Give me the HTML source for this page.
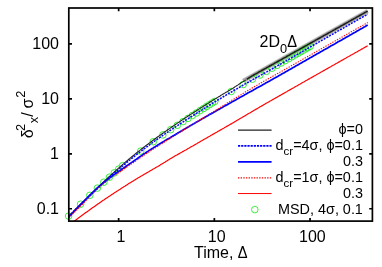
<!DOCTYPE html>
<html><head><meta charset="utf-8"><title>plot</title>
<style>html,body{margin:0;padding:0;background:#fff}svg{display:block;will-change:transform}</style></head>
<body>
<svg width="382" height="267" viewBox="0 0 382 267">
<rect width="382" height="267" fill="#fff"/>
<defs><clipPath id="c"><rect x="68.8" y="8.0" width="303.59999999999997" height="213.1"/></clipPath></defs>
<g fill="none" clip-path="url(#c)" stroke-linecap="butt" stroke-linejoin="round">
<path d="M243.2,80.9 L367.6,11.1" stroke="#e0e0e0" stroke-width="4.8"/>
<path d="M243.2,80.9 L367.6,11.1" stroke="#a4a4a4" stroke-width="3.5"/>
</g>
<g fill="none" stroke="#28ec28" stroke-width="0.9"><circle cx="68.6" cy="216.1" r="3.3"/><circle cx="80.6" cy="204.2" r="3.3"/><circle cx="89.8" cy="195.3" r="3.3"/><circle cx="97.4" cy="188.1" r="3.3"/><circle cx="103.8" cy="182.2" r="3.3"/><circle cx="109.4" cy="177.2" r="3.3"/><circle cx="114.3" cy="172.8" r="3.3"/><circle cx="118.7" cy="169.1" r="3.3"/><circle cx="122.6" cy="165.7" r="3.3"/><circle cx="140.7" cy="151.1" r="3.3"/><circle cx="153.3" cy="141.7" r="3.3"/><circle cx="162.9" cy="134.9" r="3.3"/><circle cx="170.7" cy="129.6" r="3.3"/><circle cx="177.3" cy="125.3" r="3.3"/><circle cx="183.0" cy="121.6" r="3.3"/><circle cx="188.0" cy="118.4" r="3.3"/><circle cx="192.4" cy="115.5" r="3.3"/><circle cx="196.4" cy="113.0" r="3.3"/><circle cx="200.1" cy="110.6" r="3.3"/><circle cx="203.5" cy="108.5" r="3.3"/><circle cx="206.6" cy="106.5" r="3.3"/><circle cx="209.5" cy="104.7" r="3.3"/><circle cx="212.2" cy="103.0" r="3.3"/><circle cx="214.8" cy="101.4" r="3.3"/><circle cx="231.2" cy="91.5" r="3.3"/><circle cx="243.2" cy="84.5" r="3.3"/><circle cx="252.4" cy="79.2" r="3.3"/><circle cx="260.0" cy="75.0" r="3.3"/><circle cx="266.4" cy="71.4" r="3.3"/><circle cx="272.0" cy="68.2" r="3.3"/><circle cx="276.9" cy="65.4" r="3.3"/><circle cx="281.2" cy="63.0" r="3.3"/><circle cx="285.2" cy="60.7" r="3.3"/><circle cx="288.8" cy="58.6" r="3.3"/><circle cx="292.1" cy="56.7" r="3.3"/><circle cx="295.2" cy="54.9" r="3.3"/><circle cx="298.1" cy="53.3" r="3.3"/><circle cx="300.8" cy="51.7" r="3.3"/><circle cx="303.3" cy="50.3" r="3.3"/><circle cx="305.7" cy="48.9" r="3.3"/><circle cx="307.9" cy="47.6" r="3.3"/><circle cx="310.1" cy="46.4" r="3.3"/></g>
<g fill="none" clip-path="url(#c)" stroke-linecap="butt" stroke-linejoin="round">
<path d="M68.8,216.1 L69.8,215.1 L70.8,214.1 L71.8,213.1 L72.8,212.1 L73.8,211.0 L74.8,210.0 L75.8,209.0 L76.8,208.0 L77.8,207.0 L78.8,206.0 L79.8,205.0 L80.8,204.0 L81.8,203.0 L82.8,202.0 L83.8,201.0 L84.8,200.0 L85.8,199.0 L86.8,198.1 L87.8,197.1 L88.8,196.1 L89.8,195.1 L90.8,194.1 L91.8,193.2 L92.8,192.2 L93.8,191.2 L94.8,190.3 L95.8,189.3 L96.8,188.3 L97.8,187.4 L98.8,186.4 L99.8,185.5 L100.8,184.5 L101.8,183.6 L102.8,182.6 L103.8,181.7 L104.8,180.7 L105.8,179.8 L106.8,178.9 L107.8,177.9 L108.8,177.0 L109.8,176.1 L110.8,175.2 L111.8,174.2 L112.8,173.3 L113.8,172.4 L114.8,171.5 L115.8,170.6 L116.8,169.7 L117.8,168.8 L118.8,167.9 L119.8,167.1 L120.8,166.2 L121.8,165.3 L122.8,164.4 L123.8,163.6 L124.8,162.7 L125.8,161.8 L126.8,161.0 L127.8,160.1 L128.8,159.3 L129.8,158.5 L130.8,157.6 L131.8,156.8 L132.8,156.0 L133.8,155.2 L134.8,154.4 L135.8,153.5 L136.8,152.7 L137.8,151.9 L138.8,151.1 L139.8,150.4 L140.8,149.6 L141.8,148.8 L142.8,148.0 L143.8,147.2 L144.8,146.5 L145.8,145.7 L146.8,144.9 L147.8,144.2 L148.8,143.4 L149.8,142.7 L150.8,141.9 L151.8,141.2 L152.8,140.5 L153.8,139.7 L154.8,139.0 L155.8,138.3 L156.8,137.5 L157.8,136.8 L158.8,136.1 L159.8,135.4 L160.8,134.7 L161.8,134.0 L162.8,133.3 L163.8,132.6 L164.8,131.8 L165.8,131.1 L166.8,130.5 L167.8,129.8 L168.8,129.1 L169.8,128.4 L170.8,127.7 L171.8,127.0 L172.8,126.3 L173.8,125.6 L174.8,125.0 L175.8,124.3 L176.8,123.6 L177.8,122.9 L178.8,122.3 L179.8,121.6 L180.8,120.9 L181.7,120.3 L182.7,119.6 L183.7,119.0 L184.7,118.3 L185.7,117.6 L186.7,117.0 L187.7,116.3 L188.7,115.7 L189.7,115.0 L190.7,114.4 L191.7,113.8 L192.7,113.1 L193.7,112.5 L194.7,111.8 L195.7,111.2 L196.7,110.5 L197.7,109.9 L198.7,109.3 L199.7,108.6 L200.7,108.0 L201.7,107.4 L202.7,106.7 L203.7,106.1 L204.7,105.5 L205.7,104.8 L206.7,104.2 L207.7,103.6 L208.7,102.9 L209.7,102.3 L210.7,101.7 L211.7,101.1 L212.7,100.4 L213.7,99.8 L214.7,99.2 L215.7,98.6 L216.7,98.0 L217.7,97.4 L218.7,96.8 L219.7,96.2 L220.7,95.5 L221.7,94.9 L222.7,94.3 L223.7,93.7 L224.7,93.1 L225.7,92.5 L226.7,91.9 L227.7,91.4 L228.7,90.8 L229.7,90.2 L230.7,89.6 L231.7,89.0 L232.7,88.4 L233.7,87.7 L234.7,87.0 L235.7,86.4 L236.7,85.7 L237.7,85.1 L238.7,84.4 L239.7,83.8 L240.7,83.1 L241.7,82.5 L242.7,81.9 L243.7,81.2 L244.7,80.6 L245.7,79.9" stroke="#222" stroke-width="1.1"/>
<path d="M246.7,79.3 L247.7,78.7 L248.7,78.0 L249.7,77.4 L250.7,76.8 L251.7,76.1 L252.7,75.6 L253.7,75.0 L254.7,74.4 L255.7,73.9 L256.7,73.3 L257.7,72.8 L258.7,72.2 L259.7,71.6 L260.7,71.1 L261.7,70.5 L262.7,70.0 L263.7,69.4 L264.7,68.8 L265.7,68.3 L266.7,67.7 L267.7,67.1 L268.7,66.6 L269.7,66.0 L270.7,65.5 L271.7,64.9 L272.7,64.3 L273.7,63.8 L274.7,63.2 L275.7,62.7 L276.7,62.1 L277.7,61.5 L278.7,61.0 L279.7,60.4 L280.7,59.9 L281.7,59.3 L282.7,58.7 L283.7,58.2 L284.7,57.6 L285.7,57.1 L286.7,56.5 L287.7,55.9 L288.7,55.4 L289.7,54.8 L290.7,54.2 L291.7,53.7 L292.7,53.1 L293.7,52.6 L294.7,52.0 L295.7,51.4 L296.7,50.9 L297.7,50.3 L298.7,49.8 L299.7,49.2 L300.7,48.6 L301.7,48.1 L302.7,47.5 L303.7,47.0 L304.7,46.4 L305.7,45.8 L306.7,45.3 L307.7,44.7 L308.7,44.2 L309.7,43.6 L310.7,43.0 L311.7,42.5 L312.7,41.9 L313.7,41.3 L314.7,40.8 L315.7,40.2 L316.7,39.7 L317.7,39.1 L318.7,38.5 L319.7,38.0 L320.7,37.4 L321.7,36.9 L322.7,36.3 L323.7,35.7 L324.7,35.2 L325.7,34.6 L326.7,34.1 L327.7,33.5 L328.7,32.9 L329.7,32.4 L330.7,31.8 L331.7,31.3 L332.7,30.7 L333.7,30.1 L334.7,29.6 L335.7,29.0 L336.7,28.4 L337.7,27.9 L338.7,27.3 L339.7,26.8 L340.7,26.2 L341.7,25.6 L342.7,25.1 L343.7,24.5 L344.7,24.0 L345.7,23.4 L346.7,22.8 L347.7,22.3 L348.7,21.7 L349.7,21.2 L350.7,20.6 L351.7,20.0 L352.7,19.5 L353.7,18.9 L354.7,18.4 L355.7,17.8 L356.7,17.2 L357.7,16.7 L358.7,16.1 L359.7,15.5 L360.7,15.0 L361.7,14.4 L362.7,13.9 L363.7,13.3 L364.7,12.7 L365.7,12.2 L366.7,11.6 L367.7,11.1" stroke="#1c1c1c" stroke-width="1.5"/>
<path d="M68.8,216.3 L69.8,215.3 L70.8,214.3 L71.8,213.3 L72.8,212.3 L73.8,211.3 L74.8,210.3 L75.8,209.3 L76.8,208.3 L77.8,207.4 L78.8,206.4 L79.8,205.4 L80.8,204.4 L81.8,203.5 L82.8,202.5 L83.8,201.5 L84.8,200.5 L85.8,199.6 L86.8,198.6 L87.8,197.6 L88.8,196.7 L89.8,195.7 L90.8,194.7 L91.8,193.8 L92.8,192.8 L93.8,191.9 L94.8,190.9 L95.8,190.0 L96.8,189.0 L97.8,188.1 L98.8,187.2 L99.8,186.2 L100.8,185.3 L101.8,184.4 L102.8,183.4 L103.8,182.5 L104.8,181.6 L105.8,180.7 L106.8,179.7 L107.8,178.8 L108.8,177.9 L109.8,177.0 L110.8,176.1 L111.8,175.2 L112.8,174.4 L113.8,173.5 L114.8,172.6 L115.8,171.7 L116.8,170.9 L117.8,170.0 L118.8,169.1 L119.8,168.3 L120.8,167.4 L121.8,166.6 L122.8,165.8 L123.8,164.9 L124.8,164.1 L125.8,163.3 L126.8,162.4 L127.8,161.6 L128.8,160.8 L129.8,160.0 L130.8,159.2 L131.8,158.4 L132.8,157.6 L133.8,156.8 L134.8,156.0 L135.8,155.2 L136.8,154.4 L137.8,153.6 L138.8,152.9 L139.8,152.1 L140.8,151.3 L141.8,150.6 L142.8,149.8 L143.8,149.0 L144.8,148.3 L145.8,147.5 L146.8,146.8 L147.8,146.1 L148.8,145.3 L149.8,144.6 L150.8,143.9 L151.8,143.1 L152.8,142.4 L153.8,141.7 L154.8,141.0 L155.8,140.3 L156.8,139.6 L157.8,138.9 L158.8,138.2 L159.8,137.5 L160.8,136.8 L161.8,136.1 L162.8,135.4 L163.8,134.7 L164.8,134.0 L165.8,133.3 L166.8,132.7 L167.8,132.0 L168.8,131.3 L169.8,130.6 L170.8,130.0 L171.8,129.3 L172.8,128.7 L173.8,128.0 L174.8,127.3 L175.8,126.7 L176.8,126.0 L177.8,125.4 L178.8,124.7 L179.8,124.1 L180.8,123.4 L181.7,122.8 L182.7,122.1 L183.7,121.5 L184.7,120.8 L185.7,120.2 L186.7,119.6 L187.7,118.9 L188.7,118.3 L189.7,117.7 L190.7,117.0 L191.7,116.4 L192.7,115.8 L193.7,115.1 L194.7,114.5 L195.7,113.9 L196.7,113.2 L197.7,112.6 L198.7,112.0 L199.7,111.3 L200.7,110.7 L201.7,110.1 L202.7,109.4 L203.7,108.8 L204.7,108.2 L205.7,107.5 L206.7,106.9 L207.7,106.3 L208.7,105.7 L209.7,105.0 L210.7,104.4 L211.7,103.8 L212.7,103.2 L213.7,102.5 L214.7,101.9 L215.7,101.3 L216.7,100.7 L217.7,100.1 L218.7,99.5 L219.7,98.9 L220.7,98.3 L221.7,97.7 L222.7,97.1 L223.7,96.5 L224.7,95.9 L225.7,95.3 L226.7,94.7 L227.7,94.1 L228.7,93.5 L229.7,92.9 L230.7,92.4 L231.7,91.8 L232.7,91.2 L233.7,90.6 L234.7,90.0 L235.7,89.4 L236.7,88.9 L237.7,88.3 L238.7,87.7 L239.7,87.1 L240.7,86.5 L241.7,86.0 L242.7,85.4 L243.7,84.8 L244.7,84.2 L245.7,83.7 L246.7,83.1 L247.7,82.5 L248.7,82.0 L249.7,81.4 L250.7,80.8 L251.7,80.3 L252.7,79.7 L253.7,79.1 L254.7,78.6 L255.7,78.0 L256.7,77.4 L257.7,76.9 L258.7,76.3 L259.7,75.8 L260.7,75.2 L261.7,74.7 L262.7,74.1 L263.7,73.5 L264.7,73.0 L265.7,72.4 L266.7,71.9 L267.7,71.3 L268.7,70.7 L269.7,70.2 L270.7,69.6 L271.7,69.1 L272.7,68.5 L273.7,67.9 L274.7,67.4 L275.7,66.8 L276.7,66.2 L277.7,65.7 L278.7,65.1 L279.7,64.5 L280.7,64.0 L281.7,63.4 L282.7,62.8 L283.7,62.2 L284.7,61.7 L285.7,61.1 L286.7,60.5 L287.7,60.0 L288.7,59.4 L289.7,58.8 L290.7,58.2 L291.7,57.7 L292.7,57.1 L293.7,56.5 L294.7,55.9 L295.7,55.4 L296.7,54.8 L297.7,54.2 L298.7,53.6 L299.7,53.1 L300.7,52.5 L301.7,51.9 L302.7,51.3 L303.7,50.8 L304.7,50.2 L305.7,49.6 L306.7,49.0 L307.7,48.5 L308.7,47.9 L309.7,47.3 L310.7,46.7 L311.7,46.2 L312.7,45.6 L313.7,45.0 L314.7,44.4 L315.7,43.9 L316.7,43.3 L317.7,42.7 L318.7,42.1 L319.7,41.6 L320.7,41.0 L321.7,40.4 L322.7,39.8 L323.7,39.3 L324.7,38.7 L325.7,38.1 L326.7,37.5 L327.7,37.0 L328.7,36.4 L329.7,35.8 L330.7,35.2 L331.7,34.7 L332.7,34.1 L333.7,33.5 L334.7,33.0 L335.7,32.4 L336.7,31.8 L337.7,31.2 L338.7,30.7 L339.7,30.1 L340.7,29.5 L341.7,29.0 L342.7,28.4 L343.7,27.8 L344.7,27.2 L345.7,26.7 L346.7,26.1 L347.7,25.5 L348.7,25.0 L349.7,24.4 L350.7,23.8 L351.7,23.2 L352.7,22.7 L353.7,22.1 L354.7,21.5 L355.7,21.0 L356.7,20.4 L357.7,19.8 L358.7,19.3 L359.7,18.7 L360.7,18.1 L361.7,17.5 L362.7,17.0 L363.7,16.4 L364.7,15.8 L365.7,15.3 L366.7,14.7 L367.7,14.1" stroke="#0000ff" stroke-width="1.5" stroke-dasharray="2.0 1.15"/>
<path d="M68.8,216.9 L69.8,215.9 L70.8,214.8 L71.8,213.8 L72.8,212.8 L73.8,211.7 L74.8,210.7 L75.8,209.7 L76.8,208.7 L77.8,207.6 L78.8,206.6 L79.8,205.6 L80.8,204.6 L81.8,203.6 L82.8,202.6 L83.8,201.6 L84.8,200.5 L85.8,199.5 L86.8,198.5 L87.8,197.4 L88.8,196.4 L89.8,195.4 L90.8,194.4 L91.8,193.4 L92.8,192.4 L93.8,191.4 L94.8,190.4 L95.8,189.4 L96.8,188.5 L97.8,187.6 L98.8,186.7 L99.8,185.8 L100.8,185.0 L101.8,184.1 L102.8,183.3 L103.8,182.5 L104.8,181.7 L105.8,180.9 L106.8,180.2 L107.8,179.4 L108.8,178.6 L109.8,177.8 L110.8,177.0 L111.8,176.2 L112.8,175.5 L113.8,174.8 L114.8,174.1 L115.8,173.4 L116.8,172.7 L117.8,172.0 L118.8,171.3 L119.8,170.7 L120.8,170.0 L121.8,169.3 L122.8,168.6 L123.8,167.9 L124.8,167.2 L125.8,166.5 L126.8,165.8 L127.8,165.1 L128.8,164.4 L129.8,163.7 L130.8,163.1 L131.8,162.4 L132.8,161.7 L133.8,161.0 L134.8,160.3 L135.8,159.6 L136.8,158.9 L137.8,158.2 L138.8,157.5 L139.8,156.8 L140.8,156.1 L141.8,155.4 L142.8,154.7 L143.8,154.0 L144.8,153.4 L145.8,152.7 L146.8,152.0 L147.8,151.4 L148.8,150.7 L149.8,150.1 L150.8,149.4 L151.8,148.8 L152.8,148.2 L153.8,147.5 L154.8,146.9 L155.8,146.3 L156.8,145.7 L157.8,145.0 L158.8,144.4 L159.8,143.8 L160.8,143.2 L161.8,142.6 L162.8,142.0 L163.8,141.4 L164.8,140.8 L165.8,140.2 L166.8,139.6 L167.8,139.0 L168.8,138.4 L169.8,137.9 L170.8,137.3 L171.8,136.7 L172.8,136.1 L173.8,135.5 L174.8,134.9 L175.8,134.3 L176.8,133.7 L177.8,133.1 L178.8,132.5 L179.8,131.9 L180.8,131.3 L181.7,130.8 L182.7,130.2 L183.7,129.6 L184.7,129.0 L185.7,128.4 L186.7,127.8 L187.7,127.2 L188.7,126.7 L189.7,126.1 L190.7,125.5 L191.7,124.9 L192.7,124.3 L193.7,123.8 L194.7,123.2 L195.7,122.6 L196.7,122.0 L197.7,121.4 L198.7,120.9 L199.7,120.3 L200.7,119.7 L201.7,119.1 L202.7,118.6 L203.7,118.0 L204.7,117.4 L205.7,116.8 L206.7,116.3 L207.7,115.7 L208.7,115.1 L209.7,114.6 L210.7,114.0 L211.7,113.4 L212.7,112.9 L213.7,112.3 L214.7,111.7 L215.7,111.2 L216.7,110.6 L217.7,110.0 L218.7,109.5 L219.7,108.9 L220.7,108.3 L221.7,107.8 L222.7,107.2 L223.7,106.6 L224.7,106.1 L225.7,105.5 L226.7,104.9 L227.7,104.4 L228.7,103.8 L229.7,103.2 L230.7,102.7 L231.7,102.1 L232.7,101.6 L233.7,101.0 L234.7,100.4 L235.7,99.9 L236.7,99.3 L237.7,98.7 L238.7,98.2 L239.7,97.6 L240.7,97.1 L241.7,96.5 L242.7,95.9 L243.7,95.4 L244.7,94.8 L245.7,94.3 L246.7,93.7 L247.7,93.1 L248.7,92.6 L249.7,92.0 L250.7,91.5 L251.7,90.9 L252.7,90.4 L253.7,89.8 L254.7,89.3 L255.7,88.7 L256.7,88.1 L257.7,87.6 L258.7,87.0 L259.7,86.5 L260.7,85.9 L261.7,85.4 L262.7,84.8 L263.7,84.2 L264.7,83.7 L265.7,83.1 L266.7,82.6 L267.7,82.0 L268.7,81.4 L269.7,80.9 L270.7,80.3 L271.7,79.8 L272.7,79.2 L273.7,78.6 L274.7,78.1 L275.7,77.5 L276.7,76.9 L277.7,76.4 L278.7,75.8 L279.7,75.2 L280.7,74.7 L281.7,74.1 L282.7,73.5 L283.7,73.0 L284.7,72.4 L285.7,71.8 L286.7,71.3 L287.7,70.7 L288.7,70.1 L289.7,69.6 L290.7,69.0 L291.7,68.4 L292.7,67.8 L293.7,67.3 L294.7,66.7 L295.7,66.1 L296.7,65.6 L297.7,65.0 L298.7,64.4 L299.7,63.8 L300.7,63.3 L301.7,62.7 L302.7,62.1 L303.7,61.6 L304.7,61.0 L305.7,60.4 L306.7,59.8 L307.7,59.3 L308.7,58.7 L309.7,58.1 L310.7,57.6 L311.7,57.0 L312.7,56.4 L313.7,55.8 L314.7,55.3 L315.7,54.7 L316.7,54.1 L317.7,53.6 L318.7,53.0 L319.7,52.4 L320.7,51.8 L321.7,51.3 L322.7,50.7 L323.7,50.1 L324.7,49.6 L325.7,49.0 L326.7,48.4 L327.7,47.9 L328.7,47.3 L329.7,46.7 L330.7,46.1 L331.7,45.6 L332.7,45.0 L333.7,44.4 L334.7,43.9 L335.7,43.3 L336.7,42.7 L337.7,42.1 L338.7,41.6 L339.7,41.0 L340.7,40.4 L341.7,39.9 L342.7,39.3 L343.7,38.7 L344.7,38.2 L345.7,37.6 L346.7,37.0 L347.7,36.4 L348.7,35.9 L349.7,35.3 L350.7,34.7 L351.7,34.2 L352.7,33.6 L353.7,33.0 L354.7,32.5 L355.7,31.9 L356.7,31.3 L357.7,30.7 L358.7,30.2 L359.7,29.6 L360.7,29.0 L361.7,28.5 L362.7,27.9 L363.7,27.3 L364.7,26.8 L365.7,26.2 L366.7,25.6 L367.7,25.0" stroke="#0000ff" stroke-width="1.7"/>
<path d="M68.8,218.0 L69.8,217.0 L70.8,216.0 L71.8,214.9 L72.8,213.9 L73.8,212.9 L74.8,211.9 L75.8,210.9 L76.8,209.9 L77.8,208.9 L78.8,207.9 L79.8,206.9 L80.8,205.9 L81.8,204.9 L82.8,203.9 L83.8,202.8 L84.8,201.8 L85.8,200.8 L86.8,199.7 L87.8,198.7 L88.8,197.7 L89.8,196.6 L90.8,195.6 L91.8,194.6 L92.8,193.6 L93.8,192.6 L94.8,191.6 L95.8,190.6 L96.8,189.6 L97.8,188.7 L98.8,187.8 L99.8,186.9 L100.8,186.1 L101.8,185.2 L102.8,184.4 L103.8,183.6 L104.8,182.8 L105.8,182.0 L106.8,181.2 L107.8,180.5 L108.8,179.7 L109.8,178.9 L110.8,178.1 L111.8,177.3 L112.8,176.6 L113.8,175.9 L114.8,175.2 L115.8,174.6 L116.8,173.9 L117.8,173.2 L118.8,172.6 L119.8,171.9 L120.8,171.2 L121.8,170.6 L122.8,169.9 L123.8,169.2 L124.8,168.5 L125.8,167.8 L126.8,167.1 L127.8,166.4 L128.8,165.7 L129.8,165.0 L130.8,164.3 L131.8,163.6 L132.8,163.0 L133.8,162.3 L134.8,161.6 L135.8,160.9 L136.8,160.2 L137.8,159.5 L138.8,158.8 L139.8,158.1 L140.8,157.4 L141.8,156.7 L142.8,156.0 L143.8,155.3 L144.8,154.6 L145.8,153.9 L146.8,153.3 L147.8,152.6 L148.8,152.0 L149.8,151.3 L150.8,150.7 L151.8,150.0 L152.8,149.4 L153.8,148.7 L154.8,148.1 L155.8,147.5 L156.8,146.8 L157.8,146.2 L158.8,145.6 L159.8,144.9 L160.8,144.3 L161.8,143.7 L162.8,143.1 L163.8,142.4 L164.8,141.8 L165.8,141.2 L166.8,140.5 L167.8,139.9 L168.8,139.3 L169.8,138.6 L170.8,138.0 L171.8,137.4 L172.8,136.7 L173.8,136.1 L174.8,135.5 L175.8,134.9 L176.8,134.2 L177.8,133.6 L178.8,133.0 L179.8,132.4 L180.8,131.8 L181.7,131.2 L182.7,130.5 L183.7,129.9 L184.7,129.3 L185.7,128.7 L186.7,128.1 L187.7,127.5 L188.7,126.9 L189.7,126.2 L190.7,125.6 L191.7,125.0 L192.7,124.4 L193.7,123.8 L194.7,123.2 L195.7,122.6 L196.7,122.0 L197.7,121.3 L198.7,120.7 L199.7,120.1 L200.7,119.5 L201.7,118.9 L202.7,118.3 L203.7,117.7 L204.7,117.1 L205.7,116.4 L206.7,115.8 L207.7,115.2 L208.7,114.6 L209.7,114.0 L210.7,113.4 L211.7,112.8 L212.7,112.2 L213.7,111.5 L214.7,110.9 L215.7,110.3 L216.7,109.7 L217.7,109.1 L218.7,108.5 L219.7,107.8 L220.7,107.2 L221.7,106.6 L222.7,106.0 L223.7,105.3 L224.7,104.7 L225.7,104.1 L226.7,103.4 L227.7,102.8 L228.7,102.2 L229.7,101.6 L230.7,100.9 L231.7,100.3 L232.7,99.7 L233.7,99.1 L234.7,98.5 L235.7,97.9 L236.7,97.3 L237.7,96.7 L238.7,96.1 L239.7,95.5 L240.7,94.9 L241.7,94.3 L242.7,93.6 L243.7,93.0 L244.7,92.4 L245.7,91.8 L246.7,91.2 L247.7,90.6 L248.7,90.1 L249.7,89.5 L250.7,88.9 L251.7,88.3 L252.7,87.7 L253.7,87.1 L254.7,86.5 L255.7,85.9 L256.7,85.4 L257.7,84.8 L258.7,84.2 L259.7,83.6 L260.7,83.0 L261.7,82.5 L262.7,81.9 L263.7,81.3 L264.7,80.8 L265.7,80.2 L266.7,79.7 L267.7,79.1 L268.7,78.5 L269.7,78.0 L270.7,77.4 L271.7,76.9 L272.7,76.3 L273.7,75.7 L274.7,75.2 L275.7,74.6 L276.7,74.1 L277.7,73.5 L278.7,72.9 L279.7,72.4 L280.7,71.8 L281.7,71.2 L282.7,70.7 L283.7,70.1 L284.7,69.5 L285.7,69.0 L286.7,68.4 L287.7,67.8 L288.7,67.3 L289.7,66.7 L290.7,66.1 L291.7,65.6 L292.7,65.0 L293.7,64.4 L294.7,63.9 L295.7,63.3 L296.7,62.7 L297.7,62.2 L298.7,61.6 L299.7,61.0 L300.7,60.5 L301.7,59.9 L302.7,59.3 L303.7,58.8 L304.7,58.2 L305.7,57.6 L306.7,57.1 L307.7,56.5 L308.7,55.9 L309.7,55.4 L310.7,54.8 L311.7,54.2 L312.7,53.7 L313.7,53.1 L314.7,52.5 L315.7,52.0 L316.7,51.4 L317.7,50.8 L318.7,50.3 L319.7,49.7 L320.7,49.1 L321.7,48.6 L322.7,48.0 L323.7,47.4 L324.7,46.9 L325.7,46.3 L326.7,45.7 L327.7,45.2 L328.7,44.6 L329.7,44.0 L330.7,43.5 L331.7,42.9 L332.7,42.3 L333.7,41.8 L334.7,41.2 L335.7,40.6 L336.7,40.1 L337.7,39.5 L338.7,38.9 L339.7,38.4 L340.7,37.8 L341.7,37.2 L342.7,36.7 L343.7,36.1 L344.7,35.5 L345.7,35.0 L346.7,34.4 L347.7,33.8 L348.7,33.3 L349.7,32.7 L350.7,32.1 L351.7,31.6 L352.7,31.0 L353.7,30.5 L354.7,29.9 L355.7,29.3 L356.7,28.8 L357.7,28.2 L358.7,27.6 L359.7,27.1 L360.7,26.5 L361.7,25.9 L362.7,25.4 L363.7,24.8 L364.7,24.2 L365.7,23.7 L366.7,23.1 L367.7,22.5" stroke="#ff0000" stroke-width="1.1" stroke-dasharray="1.35 1.3"/>
<path d="M68.8,225.2 L69.8,224.5 L70.8,223.7 L71.8,223.0 L72.8,222.2 L73.8,221.5 L74.8,220.7 L75.8,220.0 L76.8,219.2 L77.8,218.5 L78.8,217.7 L79.8,217.0 L80.8,216.3 L81.8,215.5 L82.8,214.8 L83.8,214.1 L84.8,213.3 L85.8,212.6 L86.8,211.9 L87.8,211.2 L88.8,210.5 L89.8,209.7 L90.8,209.0 L91.8,208.3 L92.8,207.6 L93.8,206.9 L94.8,206.2 L95.8,205.5 L96.8,204.8 L97.8,204.1 L98.8,203.4 L99.8,202.7 L100.8,202.0 L101.8,201.3 L102.8,200.6 L103.8,200.0 L104.8,199.3 L105.8,198.6 L106.8,197.9 L107.8,197.3 L108.8,196.6 L109.8,195.9 L110.8,195.3 L111.8,194.6 L112.8,193.9 L113.8,193.3 L114.8,192.6 L115.8,192.0 L116.8,191.3 L117.8,190.7 L118.8,190.0 L119.8,189.4 L120.8,188.7 L121.8,188.1 L122.8,187.4 L123.8,186.8 L124.8,186.2 L125.8,185.5 L126.8,184.9 L127.8,184.3 L128.8,183.6 L129.8,183.0 L130.8,182.4 L131.8,181.8 L132.8,181.2 L133.8,180.6 L134.8,179.9 L135.8,179.3 L136.8,178.7 L137.8,178.1 L138.8,177.5 L139.8,176.9 L140.8,176.3 L141.8,175.8 L142.8,175.2 L143.8,174.6 L144.8,174.0 L145.8,173.4 L146.8,172.8 L147.8,172.2 L148.8,171.7 L149.8,171.1 L150.8,170.5 L151.8,169.9 L152.8,169.3 L153.8,168.8 L154.8,168.2 L155.8,167.6 L156.8,167.0 L157.8,166.5 L158.8,165.9 L159.8,165.3 L160.8,164.6 L161.8,164.0 L162.8,163.4 L163.8,162.8 L164.8,162.2 L165.8,161.5 L166.8,160.9 L167.8,160.3 L168.8,159.7 L169.8,159.1 L170.8,158.5 L171.8,157.9 L172.8,157.3 L173.8,156.7 L174.8,156.1 L175.8,155.5 L176.8,155.0 L177.8,154.4 L178.8,153.9 L179.8,153.3 L180.8,152.7 L181.7,152.2 L182.7,151.6 L183.7,151.1 L184.7,150.5 L185.7,150.0 L186.7,149.4 L187.7,148.8 L188.7,148.3 L189.7,147.7 L190.7,147.1 L191.7,146.5 L192.7,146.0 L193.7,145.4 L194.7,144.8 L195.7,144.2 L196.7,143.7 L197.7,143.1 L198.7,142.5 L199.7,141.9 L200.7,141.3 L201.7,140.8 L202.7,140.2 L203.7,139.6 L204.7,139.0 L205.7,138.5 L206.7,137.9 L207.7,137.3 L208.7,136.7 L209.7,136.2 L210.7,135.6 L211.7,135.0 L212.7,134.4 L213.7,133.9 L214.7,133.3 L215.7,132.7 L216.7,132.2 L217.7,131.6 L218.7,131.0 L219.7,130.4 L220.7,129.9 L221.7,129.3 L222.7,128.7 L223.7,128.2 L224.7,127.6 L225.7,127.0 L226.7,126.4 L227.7,125.9 L228.7,125.3 L229.7,124.7 L230.7,124.1 L231.7,123.6 L232.7,123.0 L233.7,122.4 L234.7,121.8 L235.7,121.2 L236.7,120.6 L237.7,120.0 L238.7,119.4 L239.7,118.8 L240.7,118.2 L241.7,117.7 L242.7,117.1 L243.7,116.5 L244.7,115.9 L245.7,115.3 L246.7,114.7 L247.7,114.1 L248.7,113.5 L249.7,113.0 L250.7,112.4 L251.7,111.8 L252.7,111.2 L253.7,110.6 L254.7,110.0 L255.7,109.4 L256.7,108.9 L257.7,108.3 L258.7,107.7 L259.7,107.1 L260.7,106.5 L261.7,105.9 L262.7,105.4 L263.7,104.8 L264.7,104.2 L265.7,103.6 L266.7,103.0 L267.7,102.5 L268.7,101.9 L269.7,101.3 L270.7,100.8 L271.7,100.2 L272.7,99.6 L273.7,99.1 L274.7,98.5 L275.7,97.9 L276.7,97.4 L277.7,96.8 L278.7,96.2 L279.7,95.6 L280.7,95.1 L281.7,94.5 L282.7,93.9 L283.7,93.4 L284.7,92.8 L285.7,92.2 L286.7,91.7 L287.7,91.1 L288.7,90.5 L289.7,89.9 L290.7,89.4 L291.7,88.8 L292.7,88.2 L293.7,87.7 L294.7,87.1 L295.7,86.5 L296.7,86.0 L297.7,85.4 L298.7,84.8 L299.7,84.3 L300.7,83.7 L301.7,83.1 L302.7,82.5 L303.7,82.0 L304.7,81.4 L305.7,80.8 L306.7,80.3 L307.7,79.7 L308.7,79.1 L309.7,78.6 L310.7,78.0 L311.7,77.4 L312.7,76.9 L313.7,76.3 L314.7,75.7 L315.7,75.2 L316.7,74.6 L317.7,74.0 L318.7,73.5 L319.7,72.9 L320.7,72.3 L321.7,71.8 L322.7,71.2 L323.7,70.6 L324.7,70.1 L325.7,69.5 L326.7,68.9 L327.7,68.4 L328.7,67.8 L329.7,67.2 L330.7,66.7 L331.7,66.1 L332.7,65.5 L333.7,65.0 L334.7,64.4 L335.7,63.8 L336.7,63.3 L337.7,62.7 L338.7,62.1 L339.7,61.6 L340.7,61.0 L341.7,60.4 L342.7,59.9 L343.7,59.3 L344.7,58.7 L345.7,58.2 L346.7,57.6 L347.7,57.0 L348.7,56.5 L349.7,55.9 L350.7,55.3 L351.7,54.8 L352.7,54.2 L353.7,53.7 L354.7,53.1 L355.7,52.5 L356.7,52.0 L357.7,51.4 L358.7,50.8 L359.7,50.3 L360.7,49.7 L361.7,49.1 L362.7,48.6 L363.7,48.0 L364.7,47.4 L365.7,46.9 L366.7,46.3 L367.7,45.7" stroke="#ff0000" stroke-width="1.2"/>
</g>
<g stroke="#000" stroke-width="1.7" fill="none">
<rect x="68.8" y="8.0" width="303.59999999999997" height="213.1"/>
<path d="M68.8,208.75h3.2 M372.4,208.75h-3.2"/>
<path d="M68.8,153.80h3.2 M372.4,153.80h-3.2"/>
<path d="M68.8,98.85h3.2 M372.4,98.85h-3.2"/>
<path d="M68.8,43.90h3.2 M372.4,43.90h-3.2"/>
<path d="M118.65,221.1v-3.2 M118.65,8.0v3.2"/>
<path d="M214.35,221.1v-3.2 M214.35,8.0v3.2"/>
<path d="M310.05,221.1v-3.2 M310.05,8.0v3.2"/>
</g>
<g font-family="'Liberation Sans', sans-serif" font-size="16" fill="#000">
<text x="59.0" y="214.1" text-anchor="end" font-size="16">0.1</text>
<text x="59.0" y="159.1" text-anchor="end" font-size="16">1</text>
<text x="59.0" y="104.2" text-anchor="end" font-size="16">10</text>
<text x="59.0" y="49.2" text-anchor="end" font-size="16">100</text>
<text x="121.0" y="241.8" text-anchor="middle" font-size="16">1</text>
<text x="216.7" y="241.8" text-anchor="middle" font-size="16">10</text>
<text x="312.4" y="241.8" text-anchor="middle" font-size="16">100</text>
<text x="220.8" y="257.6" text-anchor="middle">Time, <tspan textLength="9.8" lengthAdjust="spacingAndGlyphs">Δ</tspan></text>
<text x="259.6" y="47.3">2D<tspan font-size="12.8" dy="5.5">0</tspan><tspan dy="-5.5" textLength="9.8" lengthAdjust="spacingAndGlyphs">Δ</tspan></text>
<g transform="translate(32.8,138.3) rotate(-90)">
<text x="0" y="0" font-size="16">δ</text>
<text x="7.2" y="-7.9" font-size="12.8">2</text>
<text x="15.1" y="4.9" font-size="12.8">x</text>
<text x="21.6" y="0" font-size="16">/</text>
<text x="29.8" y="0" font-size="16">σ</text>
<text x="40.6" y="-7.9" font-size="12.8">2</text>
</g>
</g>
<g font-family="'Liberation Sans', sans-serif" font-size="14.4" fill="#000" text-anchor="end">
<text x="362.9" y="134.3">ϕ=0</text>
<text x="362.9" y="150.3">d<tspan font-size="11.5" dy="4.5">cr</tspan><tspan dy="-4.5">=4σ, ϕ=0.1</tspan></text>
<text x="362.9" y="166.3">0.3</text>
<text x="362.9" y="182.3">d<tspan font-size="11.5" dy="4.5">cr</tspan><tspan dy="-4.5">=1σ, ϕ=0.1</tspan></text>
<text x="362.9" y="198.3">0.3</text>
<text x="362.9" y="214.3">MSD, 4σ, 0.1</text>
</g>
<g fill="none">
<path d="M238.0,130.1H271.6" stroke="#222" stroke-width="1.1"/>
<path d="M238.0,145.9H271.6" stroke="#0000ff" stroke-width="1.8" stroke-dasharray="2.2 0.95"/>
<path d="M238.0,161.85H271.6" stroke="#0000ff" stroke-width="1.9"/>
<path d="M238.0,177.9H271.6" stroke="#ff0000" stroke-width="1.1" stroke-dasharray="1.35 1.3"/>
<path d="M238.0,193.55H271.6" stroke="#ff0000" stroke-width="1"/>
<circle cx="254.8" cy="209.6" r="3.3" stroke="#28ec28" stroke-width="0.9"/>
</g>
</svg>
</body></html>
